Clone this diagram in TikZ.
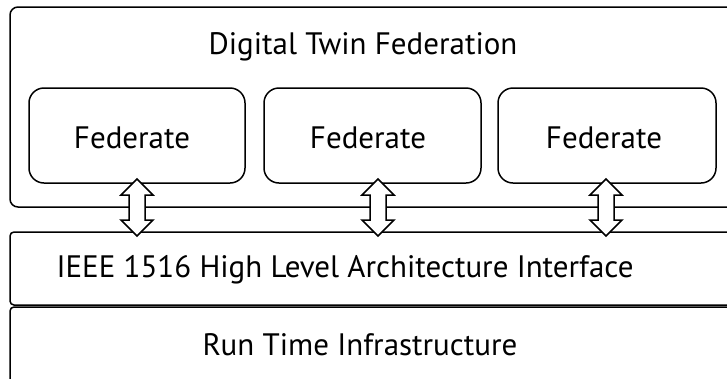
\documentclass[tikz,border=0pt]{standalone}
\usepackage{fontspec}
\setmainfont{PT Sans}
\begin{document}
\begin{tikzpicture}[x=1pt,y=-1pt,
  box/.style={draw,line width=1.5pt,rounded corners=#1},
  lbl/.style={inner sep=0pt,font=\fontsize{31}{35}\selectfont},
  dblarrow/.style={draw,fill=white,line width=1.5pt,line join=miter}]
\useasboundingbox (0,0) rectangle (727,378);
% layers
\draw[box=8pt] (10,7) rectangle (745,207);
\draw[box=4pt] (10,232) rectangle (745,305);
\draw[box=4pt] (10,307) rectangle (745,395);
\node[lbl] (title) at (363,47) {Digital Twin Federation};
\node[lbl] (hla) at (345,270) {IEEE 1516 High Level Architecture Interface};
\node[lbl] (rti) at (360,345) {Run Time Infrastructure};
% federates
\draw[box=15pt] (29,88) rectangle (245,183);
\draw[box=15pt] (264,88) rectangle (481,183);
\draw[box=15pt] (498,88) rectangle (716,183);
\node[lbl] (f1) at (132,138) {Federate};
\node[lbl] (f2) at (368,138) {Federate};
\node[lbl] (f3) at (604,138) {Federate};
% double arrows
\foreach \x in {137,378,606}{
  \draw[dblarrow] (\x,179) -- (\x+16,195) -- (\x+8,195) -- (\x+8,220) -- (\x+16,220)
    -- (\x,236) -- (\x-16,220) -- (\x-8,220) -- (\x-8,195) -- (\x-16,195) -- cycle;
}
\end{tikzpicture}
\end{document}
